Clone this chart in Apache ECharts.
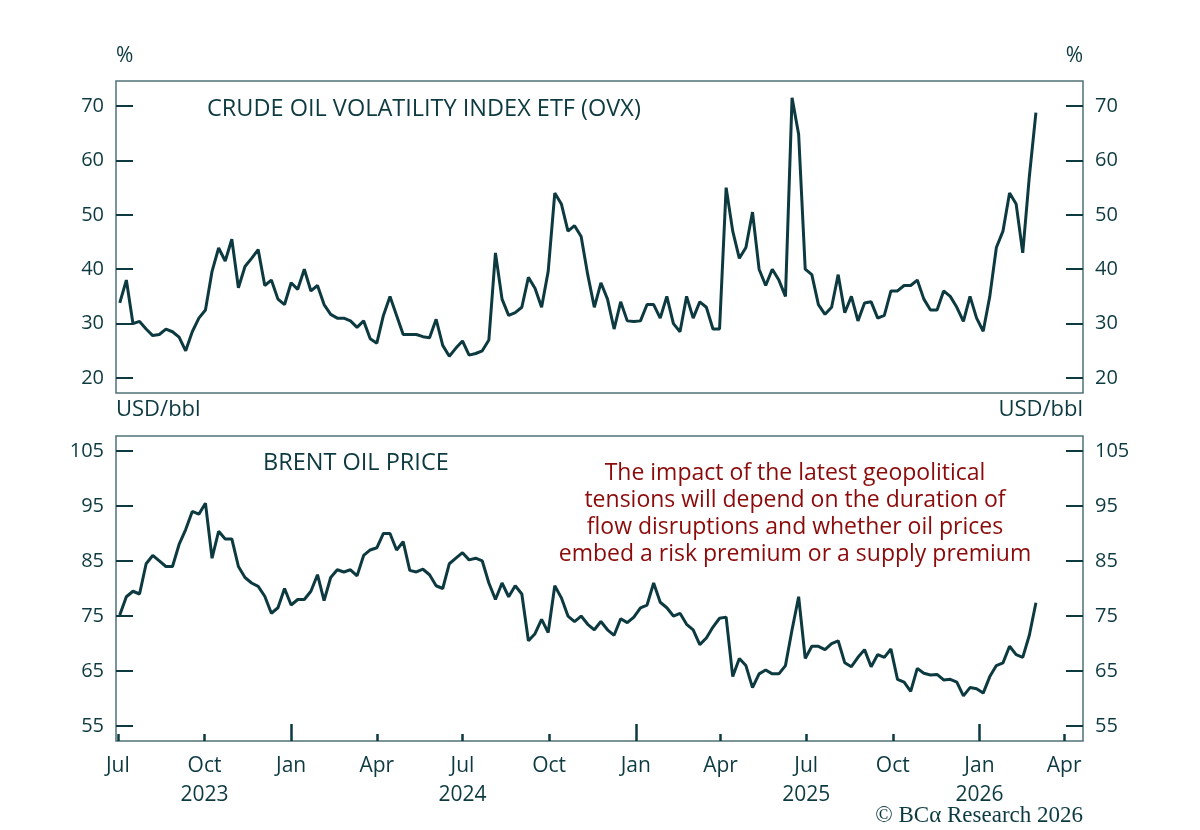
<!DOCTYPE html>
<html><head><meta charset="utf-8">
<script src="https://cdn.jsdelivr.net/npm/echarts@6/dist/echarts.min.js"></script>
<style>html,body{margin:0;padding:0;background:#fff}#c{width:1200px;height:830px}</style>
</head><body><div id="c"></div>
<script>
const startDate = '2023-07-03'; // weekly observations
const ovx = [33.8,38,30,30.4,29,27.8,28,29,28.5,27.5,25,28.5,31,32.5,39.6,43.9,41.5,45.5,36.6,40.5,
42,43.6,37,38,34.5,33.5,37.5,36.3,40,36,37,33.5,31.7,31,31,30.5,29.3,30.5,27.2,26.4,
31.5,35,31.5,28,28,28,27.6,27.4,30.8,26,24,25.5,26.8,24.2,24.5,25,27,43,34.5,31.5,
32,33,38.5,36.5,33,39.6,54,52,47,48,46,39,33,37.5,34.5,29,34,30.5,30.4,30.5,
33.5,33.5,31,35,30,28.5,35,31,34,33,29,29,55,47,42,44,50.5,40,37,40,
38,35,71.5,64.8,40,39,33.5,31.7,33,39,32,35,30.5,33.8,34,31,31.5,36,36,37,
37,38,34.5,32.5,32.5,36,35,33,30.4,35,31,28.6,35,44,47,54,52,43,57,68.8];
const brent = [75.2,78.5,79.5,79,84.5,86,85,84,84,88,90.7,94,93.5,95.5,85.5,90.4,89,89,84,82,
81,80.4,78.6,75.5,76.5,80,77,78,78,79.5,82.5,77.8,82,83.4,83,83.4,82.3,86,87,87.4,
90,90,87,88.5,83.3,83,83.5,82.5,80.5,80,84.5,85.5,86.5,85.2,85.5,85,81,78,81,78.5,
80.5,79,70.5,71.8,74.4,72,80.5,78.3,75,74,75,73.5,72.5,74,72.5,71.5,74.5,73.8,74.8,76.5,
77,81,77.5,76.5,75,75.5,73.5,72.5,69.8,71,73,74.6,74.8,64,67.3,66,62,64.5,65.2,64.5,
64.5,66,72.5,78.5,67.3,69.5,69.5,68.9,70,70.5,66.5,65.8,67.5,68.9,65.8,68,67.5,69,63.5,63,
61.3,65.5,64.6,64.3,64.4,63.4,63.5,63,60.5,62,61.8,61,64,66,66.5,69.5,68,67.5,71.5,77.4];
const quarterTicks = ['2023-07-01','2023-10-01','2024-01-01','2024-04-01','2024-07-01','2024-10-01','2025-01-01','2025-04-01','2025-07-01','2025-10-01','2026-01-01','2026-04-01'];
const tickLabels = ['Jul','Oct\n2023','Jan','Apr','Jul\n2024','Oct','Jan','Apr','Jul\n2025','Oct','Jan\n2026','Apr'];
const janTicks = ['2024-01-01','2025-01-01','2026-01-01'];
const ovxTicks = [20,30,40,50,60,70];
const brentTicks = [55,65,75,85,95,105];

const C = '#0d3a40';
const ts = s => { const [y,m,d] = s.split('-').map(Number); return Date.UTC(y,m-1,d); };
const day = 86400000;
const t0 = ts(startDate);
const ovxData = ovx.map((v,i)=>[t0+i*7*day, v]);
const brentData = brent.map((v,i)=>[t0+i*7*day, v]);
const xMin = ts('2023-06-29'), xMax = ts('2026-04-21');
const qT = quarterTicks.map(ts), jT = janTicks.map(ts);
const font = '"Open Sans"';

function yAxes(grid, min, max, ticks){
  return [0,1].map(k=>({
    type:'value', gridIndex:grid, min, max, position:k?'right':'left',
    splitLine:{show:false}, axisLine:{show:false},
    axisTick:{show:true, inside:true, length:17, customValues:ticks, lineStyle:{color:C,width:2}},
    axisLabel:{customValues:ticks, color:C, fontSize:20, fontFamily:font, margin:12}
  }));
}
function xAx(grid, labels){
  return [
    {type:'value', gridIndex:grid, position:'bottom', min:xMin, max:xMax, splitLine:{show:false},
     axisLine:{show:false},
     axisTick:{show:labels, inside:true, length:7, customValues:qT, lineStyle:{color:C,width:2.5}},
     axisLabel:{show:labels, customValues:qT, color:C, fontSize:21, fontFamily:font, lineHeight:29, margin:11,
       formatter:(v)=>{ const i=qT.indexOf(v); return i>=0?tickLabels[i]:''; }}},
    {type:'value', gridIndex:grid, position:'bottom', min:xMin, max:xMax, splitLine:{show:false}, axisLine:{show:false},
     axisTick:{show:labels, inside:true, length:17, customValues:jT, lineStyle:{color:C,width:2.5}},
     axisLabel:{show:false}}
  ];
}
const chart = echarts.init(document.getElementById('c'));
chart.setOption({
  animation:false,
  backgroundColor:'#fff',
  grid:[
    {left:116, right:117, top:81, height:312, show:true, borderColor:'#4f7176', borderWidth:1.5},
    {left:116, right:117, top:436, height:305, show:true, borderColor:'#4f7176', borderWidth:1.5}
  ],
  xAxis:[...xAx(0,false), ...xAx(1,true)],
  yAxis:[...yAxes(0, 17.24, 74.6, ovxTicks), ...yAxes(1, 52.3, 107.7, brentTicks)],
  series:[
    {type:'line', xAxisIndex:0, yAxisIndex:0, data:ovxData, showSymbol:false, lineStyle:{color:C,width:3}},
    {type:'line', xAxisIndex:2, yAxisIndex:2, data:brentData, showSymbol:false, lineStyle:{color:C,width:3}}
  ],
  graphic:[
    {type:'text', left:116, top:46, style:{text:'%', fill:C, font:'21px '+font}},
    {type:'text', right:117, top:46, style:{text:'%', fill:C, font:'21px '+font}},
    {type:'text', left:116, top:399, style:{text:'USD/bbl', fill:C, font:'22px '+font}},
    {type:'text', right:117, top:399, style:{text:'USD/bbl', fill:C, font:'22px '+font}},
    {type:'text', left:207, top:97, style:{text:'CRUDE OIL VOLATILITY INDEX ETF (OVX)', fill:C, font:'23.5px '+font}},
    {type:'text', left:263, top:451, style:{text:'BRENT OIL PRICE', fill:C, font:'23.5px '+font}},
    {type:'text', x:795, y:460, style:{text:'The impact of the latest geopolitical\ntensions will depend on the duration of\nflow disruptions and whether oil prices\nembed a risk premium or a supply premium', fill:'#8b0a0a', font:'23px '+font, align:'center', lineHeight:27}},
    {type:'text', right:117, top:804, style:{text:'© BCα Research 2026', fill:C, font:'23px "Liberation Serif"'}}
  ]
});
</script></body></html>
